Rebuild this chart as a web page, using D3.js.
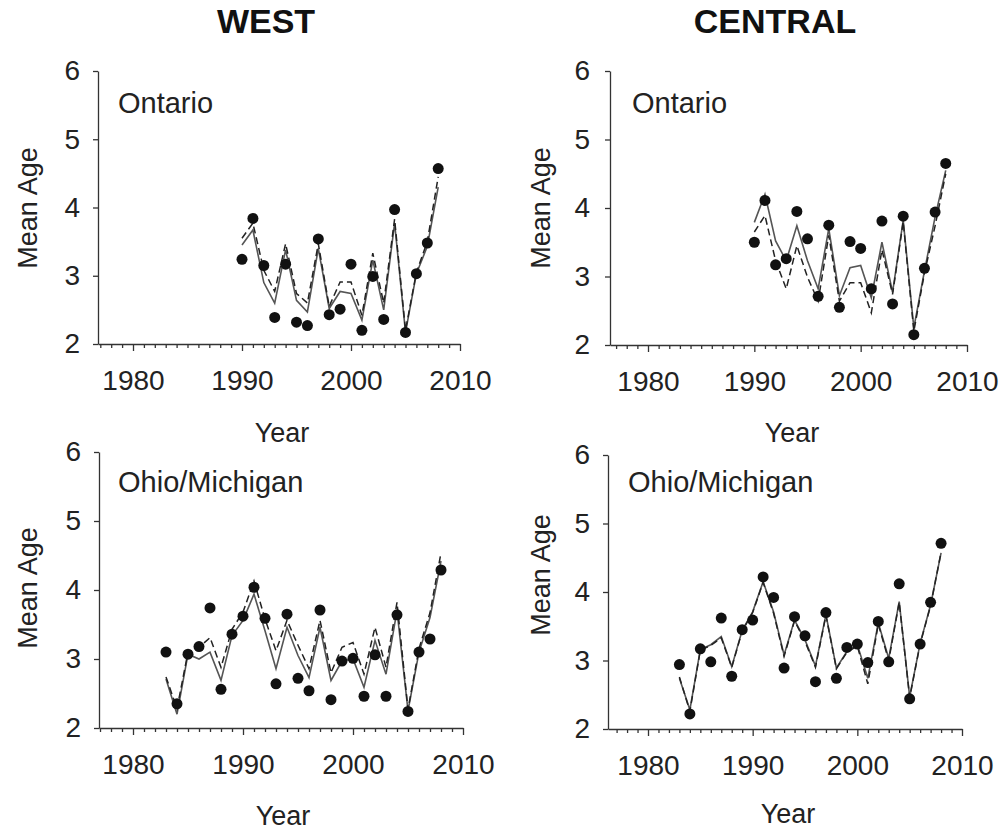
<!DOCTYPE html>
<html>
<head>
<meta charset="utf-8">
<script src="https://cdn.jsdelivr.net/npm/d3@7"></script>
<style>
  body { margin: 0; background: #fff; }
  svg { font-family: "Liberation Sans", Arial, sans-serif; }
</style>
</head>
<body>
<svg width="1006" height="832"></svg>
<script>
// Years
const ontarioYears = [1990, 1991, 1992, 1993, 1994, 1995, 1996, 1997, 1998, 1999,
  2000, 2001, 2002, 2003, 2004, 2005, 2006, 2007, 2008];
const ohioYears = [1983, 1984, 1985, 1986, 1987, 1988, 1989, 1990, 1991, 1992, 1993,
  1994, 1995, 1996, 1997, 1998, 1999, 2000, 2001, 2002, 2003, 2004, 2005, 2006, 2007, 2008];

// WEST - Ontario
const westOntarioObs = [3.24, 3.84, 3.15, 2.39, 3.17, 2.32, 2.27, 3.54, 2.43, 2.51,
  3.17, 2.20, 2.99, 2.36, 3.97, 2.17, 3.03, 3.48, 4.57];
const westOntarioSolid = [3.45, 3.67, 2.90, 2.60, 3.38, 2.64, 2.47, 3.40, 2.52, 2.77,
  2.74, 2.35, 3.23, 2.50, 3.77, 2.17, 3.03, 3.43, 4.30];
const westOntarioDashed = [3.55, 3.77, 3.08, 2.77, 3.47, 2.74, 2.60, 3.47, 2.55, 2.91,
  2.91, 2.42, 3.33, 2.60, 3.83, 2.20, 3.05, 3.50, 4.45];

// CENTRAL - Ontario
const centralOntarioObs = [3.50, 4.11, 3.17, 3.26, 3.95, 3.55, 2.71, 3.75, 2.55, 3.51,
  3.41, 2.82, 3.81, 2.60, 3.88, 2.15, 3.12, 3.94, 4.65];
const centralOntarioSolid = [3.79, 4.20, 3.52, 3.23, 3.74, 3.23, 2.82, 3.70, 2.72, 3.13,
  3.16, 2.69, 3.50, 2.77, 3.82, 2.25, 3.08, 3.87, 4.55];
const centralOntarioDashed = [3.65, 3.89, 3.23, 2.82, 3.45, 2.99, 2.64, 3.60, 2.64, 2.91,
  2.91, 2.47, 3.39, 2.74, 3.80, 2.20, 3.05, 3.74, 4.50];

// WEST - Ohio/Michigan
const westOhioObs = [3.10, 2.35, 3.07, 3.18, 3.74, 2.56, 3.36, 3.62, 4.04, 3.59, 2.64,
  3.65, 2.72, 2.54, 3.71, 2.41, 2.97, 3.01, 2.46, 3.06, 2.46, 3.64, 2.24, 3.10, 3.29, 4.29];
const westOhioSolid = [2.71, 2.20, 3.07, 3.00, 3.10, 2.69, 3.34, 3.56, 3.94, 3.41, 2.86,
  3.46, 3.05, 2.73, 3.46, 2.69, 2.97, 3.00, 2.59, 3.27, 2.78, 3.70, 2.25, 3.10, 3.60, 4.42];
const westOhioDashed = [2.74, 2.28, 3.10, 3.17, 3.31, 2.88, 3.43, 3.68, 4.13, 3.58, 3.12,
  3.56, 3.20, 2.86, 3.56, 2.80, 3.17, 3.24, 2.78, 3.46, 2.88, 3.82, 2.27, 3.15, 3.67, 4.54];

// CENTRAL - Ohio/Michigan
const centralOhioObs = [2.94, 2.22, 3.17, 2.98, 3.62, 2.77, 3.45, 3.59, 4.22, 3.92, 2.89,
  3.64, 3.36, 2.69, 3.70, 2.74, 3.19, 3.24, 2.97, 3.57, 2.98, 4.12, 2.44, 3.24, 3.85, 4.71];
const centralOhioSolid = [2.74, 2.28, 3.16, 3.23, 3.35, 2.91, 3.44, 3.71, 4.15, 3.71, 3.08,
  3.59, 3.30, 2.92, 3.67, 2.89, 3.13, 3.23, 2.74, 3.55, 3.03, 3.86, 2.47, 3.25, 3.81, 4.57];
const centralOhioDashed = [2.76, 2.26, 3.15, 3.22, 3.33, 2.90, 3.43, 3.70, 4.14, 3.69, 3.06,
  3.58, 3.28, 2.90, 3.66, 2.88, 3.12, 3.21, 2.66, 3.53, 3.00, 3.85, 2.46, 3.24, 3.80, 4.58];

// Axis ticks
const yTicks = [2, 3, 4, 5, 6];
const xTickLabels = [1980, 1990, 2000, 2010];
const xMinorTicks = [1977, 1978, 1979, 1980, 1981, 1982, 1983, 1984, 1985, 1986, 1987,
  1988, 1989, 1990, 1991, 1992, 1993, 1994, 1995, 1996, 1997, 1998, 1999, 2000, 2001,
  2002, 2003, 2004, 2005, 2006, 2007, 2008, 2009, 2010];

const columnTitles = ["WEST", "CENTRAL"];

const svg = d3.select("svg");

// Panel layout (pixel positions of each sub-plot)
const panels = [
  { years: ontarioYears, obs: westOntarioObs, solid: westOntarioSolid, dashed: westOntarioDashed,
    label: "Ontario", left: 98, x1980: 133, x2010: 460, top: 71, bottom: 344,
    labelX: 118, labelY: 113, meanX: 37, meanY: 208, yearX: 282, yearY: 442, yPad: 13 },
  { years: ontarioYears, obs: centralOntarioObs, solid: centralOntarioSolid, dashed: centralOntarioDashed,
    label: "Ontario", left: 610, x1980: 648, x2010: 967, top: 71, bottom: 345,
    labelX: 632, labelY: 113, meanX: 550, meanY: 208, yearX: 792, yearY: 442, yPad: 15 },
  { years: ohioYears, obs: westOhioObs, solid: westOhioSolid, dashed: westOhioDashed,
    label: "Ohio/Michigan", left: 99, x1980: 133, x2010: 463, top: 452, bottom: 728,
    labelX: 118, labelY: 492, meanX: 37, meanY: 588, yearX: 283, yearY: 825, yPad: 13 },
  { years: ohioYears, obs: centralOhioObs, solid: centralOhioSolid, dashed: centralOhioDashed,
    label: "Ohio/Michigan", left: 608, x1980: 648, x2010: 962, top: 455, bottom: 729,
    labelX: 628, labelY: 492, meanX: 550, meanY: 575, yearX: 788, yearY: 823, yPad: 13 }
];

// Column titles
svg.selectAll(".col-title")
  .data(columnTitles)
  .enter().append("text")
  .attr("class", "col-title")
  .attr("x", (d, i) => i === 0 ? 266 : 775)
  .attr("y", 33)
  .attr("text-anchor", "middle")
  .attr("font-size", 34)
  .attr("font-weight", "bold")
  .attr("fill", "#111")
  .text(d => d);

panels.forEach(p => {
  const x = d3.scaleLinear().domain([1980, 2010]).range([p.x1980, p.x2010]);
  x.domain([x.invert(p.left), 2010]).range([p.left, p.x2010]);
  const y = d3.scaleLinear().domain([2, 6]).range([p.bottom, p.top]);

  const g = svg.append("g");

  // x axis: a tick every year, labels every decade
  const gx = g.append("g")
    .attr("transform", `translate(0,${p.bottom})`)
    .call(d3.axisBottom(x)
      .tickValues(xMinorTicks)
      .tickFormat(d => xTickLabels.includes(d) ? d : "")
      .tickSizeOuter(0)
      .tickSizeInner(4)
      .tickPadding(22));
  gx.selectAll(".tick line").attr("y2", d => xTickLabels.includes(d) ? 7 : 4);

  // y axis
  const gy = g.append("g")
    .attr("transform", `translate(${p.left},0)`)
    .call(d3.axisLeft(y)
      .tickValues(yTicks)
      .tickFormat(d3.format("d"))
      .tickSizeOuter(0)
      .tickSizeInner(5)
      .tickPadding(p.yPad));

  [gx, gy].forEach(a => {
    a.attr("font-size", 28).attr("font-family", null);
    a.selectAll("path, line").attr("stroke", "#333").attr("stroke-width", 1.3);
    a.selectAll("text").attr("fill", "#222");
  });

  // axis titles
  g.append("text")
    .attr("x", p.yearX)
    .attr("y", p.yearY)
    .attr("text-anchor", "middle")
    .attr("font-size", 27)
    .attr("fill", "#222")
    .text("Year");
  g.append("text")
    .attr("transform", `translate(${p.meanX},${p.meanY}) rotate(-90)`)
    .attr("text-anchor", "middle")
    .attr("font-size", 27)
    .attr("fill", "#222")
    .text("Mean Age");

  // region label
  g.append("text")
    .attr("x", p.labelX)
    .attr("y", p.labelY)
    .attr("font-size", 29)
    .attr("fill", "#222")
    .text(p.label);

  const line = d3.line()
    .x((d, i) => x(p.years[i]))
    .y(d => y(d));

  // model fits
  g.append("path")
    .datum(p.solid)
    .attr("fill", "none")
    .attr("stroke", "#555")
    .attr("stroke-width", 1.6)
    .attr("d", line);
  g.append("path")
    .datum(p.dashed)
    .attr("fill", "none")
    .attr("stroke", "#222")
    .attr("stroke-width", 1.5)
    .attr("stroke-dasharray", "7,4")
    .attr("d", line);

  // observed
  g.selectAll(".obs")
    .data(p.obs)
    .enter().append("circle")
    .attr("class", "obs")
    .attr("cx", (d, i) => x(p.years[i]))
    .attr("cy", d => y(d))
    .attr("r", 5.5)
    .attr("fill", "#111");
});
</script>
</body>
</html>
